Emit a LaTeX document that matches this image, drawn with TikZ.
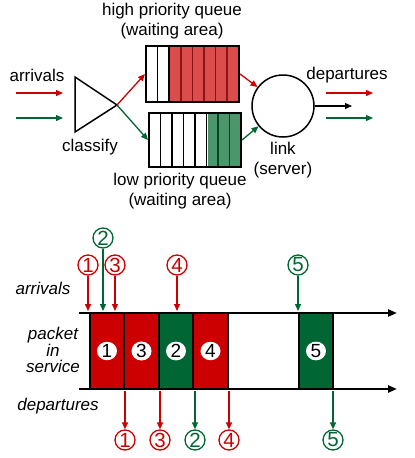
\documentclass[tikz,border=0pt]{standalone}
\usepackage{fontspec}
\setmainfont{Liberation Sans}
\usetikzlibrary{arrows.meta,shapes.geometric}
\definecolor{hired}{RGB}{204,0,0}
\definecolor{logreen}{RGB}{0,102,51}
\definecolor{qred}{RGB}{219,76,76}
\definecolor{qgreen}{RGB}{76,150,108}
\definecolor{qreddiv}{RGB}{140,20,20}
\definecolor{qgreendiv}{RGB}{0,70,35}
\begin{document}
\begin{tikzpicture}[x=1pt, y=-1pt,
  every node/.style={font=\fontsize{17}{20}\selectfont, inner sep=0pt},
  arr/.style={line width=1.3pt, -{Triangle[length=7pt,width=6pt]}},
  redarr/.style={arr, hired},
  greenarr/.style={arr, logreen},
  queue/.style={draw, line width=2pt, rectangle},
  slot/.style={rectangle, draw, line width=2pt, minimum width=34.5pt, minimum height=76pt},
  pkt/.style={ellipse, fill=white, minimum width=20pt, minimum height=17pt, font=\fontsize{19}{20}\selectfont},
  tag/.style={circle, draw, line width=1.3pt, minimum size=20pt, font=\fontsize{20.5}{20}\selectfont},
  lbl/.style={font=\fontsize{17}{16.5}\selectfont\itshape, align=center}]
\useasboundingbox (0,0) rectangle (415,458);
% queueing system
\node (arrtext) at (37,75){arrivals};
\coordinate (inr0) at (16,93);
\coordinate (inr1) at (63,93);
\coordinate (ing0) at (16,118);
\coordinate (ing1) at (63,118);
\draw[redarr](inr0) -- (inr1);
\draw[greenarr](ing0) -- (ing1);
\coordinate (cl1) at (75,77);
\coordinate (cl2) at (75,132);
\coordinate (tip) at (117,105);
\draw[line width=1.5pt, line join=miter](cl1) -- (tip) -- (cl2) -- cycle;
\node (cltext) at (90,147){classify};
\node[align=center] (hqtext) at (172,21){high priority queue\\(waiting area)};
\fill[qred] (170,46) rectangle (239,102);
\foreach \i in {1,2}
  \draw[line width=1.5pt] (146+\i*11.6,46) -- (146+\i*11.6,102);
\foreach \i in {3,...,7}
  \draw[line width=1.5pt, qreddiv] (146+\i*11.6,46) -- (146+\i*11.6,102);
\node[queue, minimum width=93pt, minimum height=56pt] (hq) at (192.5,74){};
\fill[qgreen] (207.5,113) rectangle (241,167);
\foreach \i in {1,...,5}
  \draw[line width=1.5pt] (149+\i*11.5,113) -- (149+\i*11.5,167);
\foreach \i in {6,7}
  \draw[line width=1.5pt, qgreendiv] (149+\i*11.5,113) -- (149+\i*11.5,167);
\node[queue, minimum width=92pt, minimum height=54pt] (lq) at (195,140){};
\node[align=center] (lqtext) at (180,191){low priority queue\\(waiting area)};
\draw[redarr](tip) -- (hq.west);
\draw[greenarr](tip) -- (lq.west);
\node[circle, draw, line width=1.5pt, minimum size=62pt] (link) at (283,106){};
\node[align=center] (linktext) at (283,160){link\\(server)};
\draw[redarr](hq.east) -- (link);
\draw[greenarr](lq.east) -- (link);
\coordinate (out) at (352,106);
\draw[arr](link.east) -- (out);
\node (deptext) at (347,75){departures};
\coordinate (outr0) at (326,93);
\coordinate (outr1) at (373,93);
\coordinate (outg0) at (326,118);
\coordinate (outg1) at (373,118);
\draw[redarr](outr0) -- (outr1);
\draw[greenarr](outg0) -- (outg1);
% timing diagram
\node[slot, fill=hired] (s1) at (107,351){};
\node[slot, fill=hired] (s3) at (141.5,351){};
\node[slot, fill=logreen] (s2) at (176,351){};
\node[slot, fill=hired] (s4) at (210.5,351){};
\node[slot, fill=logreen] (s5) at (316,351){};
\node[pkt] at (s1){1};
\node[pkt] at (s3){3};
\node[pkt] at (s2){2};
\node[pkt] at (s4){4};
\node[pkt] at (s5){5};
\coordinate (tl0) at (79,313);
\coordinate (tl1) at (397,313);
\coordinate (bl0) at (79,389);
\coordinate (bl1) at (397,389);
\draw[line width=2.5pt, -{Triangle[length=9pt,width=7pt]}](tl0) -- (tl1);
\draw[line width=2.5pt, -{Triangle[length=9pt,width=7pt]}](bl0) -- (bl1);
\node[lbl] (arrlbl) at (43,288){arrivals};
\node[lbl] (svclbl) at (53,350){packet\\in\\service};
\node[lbl] (deplbl) at (58,406){departures};
\node[tag, hired] (a1) at (88,265){1};
\node[tag, logreen] (a2) at (103,238){2};
\node[tag, hired] (a3) at (115,265){3};
\node[tag, hired] (a4) at (177,265){4};
\node[tag, logreen] (a5) at (298,265){5};
\draw[redarr](a1.south) -- (a1.south |- 0,311);
\draw[greenarr](a2.south) -- (a2.south |- 0,311);
\draw[redarr](a3.south) -- (a3.south |- 0,311);
\draw[redarr](a4.south) -- (a4.south |- 0,311);
\draw[greenarr](a5.south) -- (a5.south |- 0,311);
\node[tag, hired] (d1) at (125,440){1};
\node[tag, hired] (d3) at (160,440){3};
\node[tag, logreen] (d2) at (195,440){2};
\node[tag, hired] (d4) at (229,440){4};
\node[tag, logreen] (d5) at (333,440){5};
\draw[redarr](d1.north |- 0,391) -- (d1.north);
\draw[redarr](d3.north |- 0,391) -- (d3.north);
\draw[greenarr](d2.north |- 0,391) -- (d2.north);
\draw[redarr](d4.north |- 0,391) -- (d4.north);
\draw[greenarr](d5.north |- 0,391) -- (d5.north);
\end{tikzpicture}
\end{document}
